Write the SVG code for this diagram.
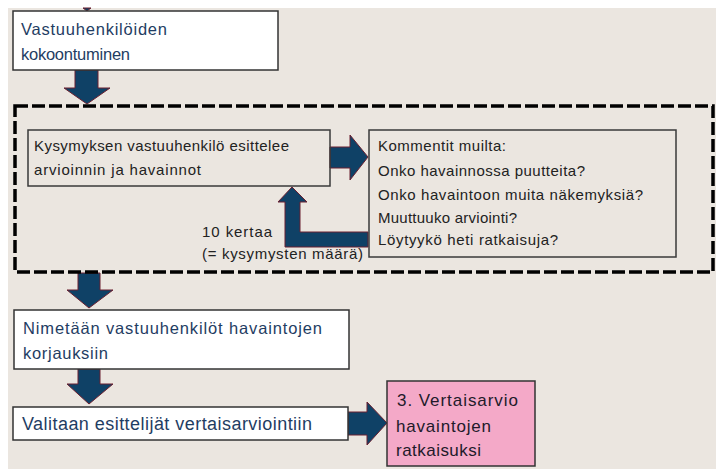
<svg xmlns="http://www.w3.org/2000/svg" width="716" height="469" viewBox="0 0 716 469">
<style>
.box{fill:#ffffff;stroke:#333333;stroke-width:1.5}
.ibox{fill:none;stroke:#3a3a3a;stroke-width:1.5}
.arr{fill:#0f4166;stroke:#6b2030;stroke-width:1;stroke-linejoin:miter}
.t1{font-family:"Liberation Sans",Arial,sans-serif;font-size:16.5px;fill:#1f3d63}
.t2{font-family:"Liberation Sans",Arial,sans-serif;font-size:15px;fill:#222222}
.t3{font-family:"Liberation Sans",Arial,sans-serif;font-size:17px;fill:#221a2a}
</style>
<rect x="0" y="0" width="716" height="469" fill="#ffffff"/>
<rect x="8" y="8" width="708" height="461" fill="#ebe6e0"/>
<g id="connectors">
<polygon class="arr" points="83,8 91,8 87,11"/>
<polygon class="arr" points="75,70 98,70 98,88 110,88 87,104 64,88 75,88"/>
<polygon class="arr" points="78,273 100,273 100,290 113,290 89,308 67,290 78,290"/>
<polygon class="arr" points="78,369 100,369 100,384 113,384 89,404 67,384 78,384"/>
<polygon class="arr" points="330,147 350,147 350,135 368,157 350,180 350,168 330,168"/>
<polygon class="arr" points="368,232 368,247 285,247 285,202 278,202 292,187 307,202 300,202 300,232"/>
<polygon class="arr" points="348,412 367,412 367,402 387,423 367,445 367,435 348,435"/>
</g>
<g id="loop">
<rect x="15" y="106" width="698" height="166" fill="none" stroke="#000000" stroke-width="3.5" stroke-dasharray="13 4"/>
<text class="t2" x="202" y="237" textLength="70">10 kertaa</text>
<text class="t2" x="202" y="259" textLength="161">(= kysymysten määrä)</text>
</g>
<g id="n1">
<rect class="box" x="13" y="11" width="265" height="59"/>
<text class="t1" x="21" y="35" textLength="146">Vastuuhenkilöiden</text>
<text class="t1" x="21" y="60" textLength="109">kokoontuminen</text>
</g>
<g id="n2">
<rect class="ibox" x="28" y="130" width="302" height="56"/>
<text class="t2" x="34" y="151" textLength="255">Kysymyksen vastuuhenkilö esittelee</text>
<text class="t2" x="34" y="175" textLength="167">arvioinnin ja havainnot</text>
</g>
<g id="n3">
<rect class="ibox" x="369" y="130" width="307" height="127"/>
<text class="t2" x="378" y="151" textLength="128">Kommentit muilta:</text>
<text class="t2" x="378" y="176" textLength="207">Onko havainnossa puutteita?</text>
<text class="t2" x="378" y="200" textLength="265">Onko havaintoon muita näkemyksiä?</text>
<text class="t2" x="378" y="223" textLength="139">Muuttuuko arviointi?</text>
<text class="t2" x="378" y="245" textLength="180">Löytyykö heti ratkaisuja?</text>
</g>
<g id="n4">
<rect class="box" x="14" y="310" width="335" height="59"/>
<text class="t1" x="23" y="334" textLength="299">Nimetään vastuuhenkilöt havaintojen</text>
<text class="t1" x="23" y="359" textLength="85">korjauksiin</text>
</g>
<g id="n5">
<rect class="box" x="13" y="407" width="335" height="33"/>
<text class="t1" x="22" y="430" style="font-size:18px" textLength="290">Valitaan esittelijät vertaisarviointiin</text>
</g>
<g id="n6">
<rect x="387" y="381" width="148" height="85" fill="#f4a9c8" stroke="#333333" stroke-width="1.5"/>
<text class="t3" x="397" y="406" textLength="121">3. Vertaisarvio</text>
<text class="t3" x="396" y="432" textLength="95">havaintojen</text>
<text class="t3" x="396" y="456" textLength="85">ratkaisuksi</text>
</g>
</svg>
